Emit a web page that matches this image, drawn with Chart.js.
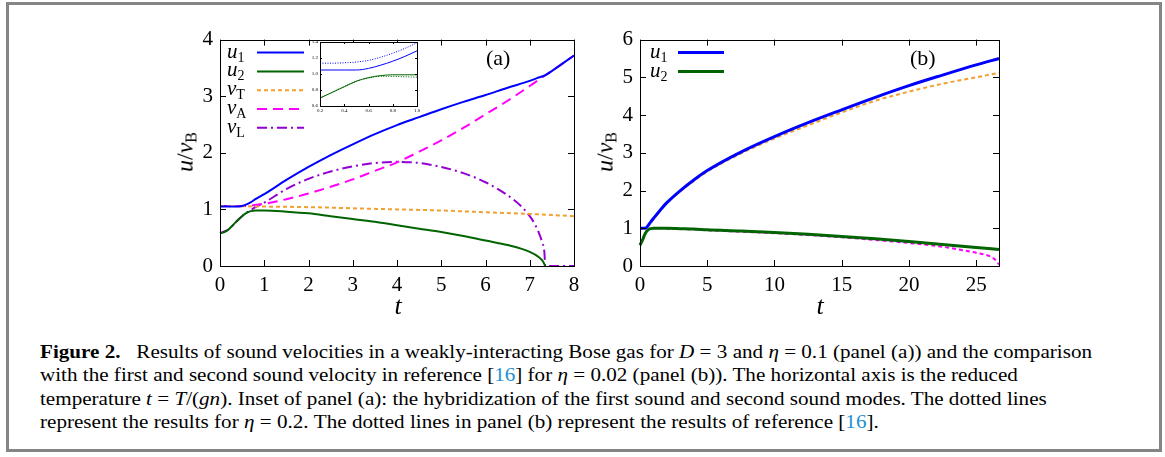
<!DOCTYPE html>
<html>
<head>
<meta charset="utf-8">
<script src="https://cdn.jsdelivr.net/npm/chart.js@4.4.1/dist/chart.umd.min.js"></script>
<style>
  body { margin: 0; background: #fff; width: 1165px; height: 457px; overflow: hidden; position: relative; font-family: 'Liberation Serif', serif; }
  .box { position: absolute; left: 6px; top: 2px; width: 1150px; height: 444px; border: 3px solid #858585; }
  .pane { position: absolute; }
  .lbl { position: absolute; font-size: 22px; color: #000; white-space: nowrap; }
  .ytitle { position: absolute; font-size: 24px; transform: translate(-50%, -50%) rotate(-90deg); white-space: nowrap; }
  .ytitle sub { font-size: 16px; font-style: normal; vertical-align: -4px; }
  .xtitle { position: absolute; font-size: 26px; font-style: italic; transform: translate(-50%, -50%); }
  .cap { position: absolute; left: 40px; top: 340px; font-size: 19px; line-height: 23.3px; white-space: nowrap; transform-origin: 0 0; }
  .cap div { display: table; }
  .cap .ref { color: #1e90d0; }
</style>
</head>
<body>
<div class="box"></div>

<div class="pane" style="left:140px; top:20px;"><canvas id="panelA" width="460" height="310"></canvas></div>
<div class="pane" style="left:298px; top:36px;"><canvas id="inset" width="130" height="80"></canvas></div>
<div class="pane" style="left:560px; top:20px;"><canvas id="panelB" width="465" height="310"></canvas></div>

<div class="ytitle" style="left:186px; top:152px;"><i>u</i>/<i>v</i><sub>B</sub></div>
<div class="ytitle" style="left:606px; top:152px;"><i>u</i>/<i>v</i><sub>B</sub></div>
<div class="xtitle" style="left:398px; top:306px;">t</div>
<div class="xtitle" style="left:820px; top:306px;">t</div>
<div class="lbl" style="left:486px; top:45px;">(a)</div>
<div class="lbl" style="left:910px; top:45px;">(b)</div>

<div class="cap" id="cap">
  <div id="capLine1"><b>Figure 2.</b>&nbsp;&nbsp; Results of sound velocities in a weakly-interacting Bose gas for <i>D</i> = 3 and <i>η</i> = 0.1 (panel (a)) and the comparison</div>
  <div>with the first and second sound velocity in reference [<span class="ref">16</span>] for <i>η</i> = 0.02 (panel (b)). The horizontal axis is the reduced</div>
  <div>temperature <i>t</i> = <i>T</i>/(<i>gn</i>). Inset of panel (a): the hybridization of the first sound and second sound modes. The dotted lines</div>
  <div>represent the results for <i>η</i> = 0.2. The dotted lines in panel (b) represent the results of reference [<span class="ref">16</span>].</div>
</div>

<script>
// ---- panel (a), eta = 0.1 ----
var tU1a = [0, 0.2, 0.4, 0.5, 0.6, 0.7, 0.8, 1, 1.5, 2, 2.5, 3, 3.5, 4, 4.5, 5, 5.5, 6, 6.5, 7, 7.2, 7.35, 7.6, 8];
var u1a  = [1.05, 1.05, 1.05, 1.06, 1.09, 1.13, 1.18, 1.27, 1.52, 1.75, 1.96, 2.15, 2.33, 2.49, 2.63, 2.77, 2.9, 3.02, 3.15, 3.27, 3.33, 3.37, 3.5, 3.72];
var tU2a = [0, 0.1, 0.2, 0.3, 0.4, 0.5, 0.6, 0.7, 0.8, 1, 1.5, 2, 2.5, 3, 3.5, 4, 4.5, 5, 5.5, 6, 6.5, 7, 7.2, 7.3, 7.35];
var u2a  = [0.58, 0.6, 0.65, 0.73, 0.81, 0.88, 0.94, 0.97, 0.98, 0.98, 0.96, 0.93, 0.88, 0.83, 0.78, 0.72, 0.66, 0.6, 0.53, 0.45, 0.37, 0.25, 0.16, 0.08, 0];
var tVTa = [0, 1, 2, 3, 4, 5, 6, 7, 8];
var vTa  = [1.06, 1.05, 1.04, 1.02, 1.0, 0.98, 0.95, 0.92, 0.88];
var tVAa = [0, 0.5, 1, 1.5, 2, 2.5, 3, 3.5, 4, 4.5, 5, 5.5, 6, 6.5, 7, 7.35, 7.6, 8];
var vAa  = [1.06, 1.06, 1.1, 1.18, 1.28, 1.4, 1.53, 1.68, 1.83, 2.02, 2.22, 2.44, 2.68, 2.92, 3.18, 3.37, 3.5, 3.72];
var tVLa = [0, 0.2, 0.4, 0.6, 0.7, 0.8, 1, 1.5, 2, 2.5, 3, 3.5, 4, 4.5, 5, 5.5, 6, 6.5, 6.8, 7, 7.1, 7.2, 7.28, 7.33, 7.35, 8];
var vLa  = [0.58, 0.65, 0.81, 0.94, 0.99, 1.04, 1.12, 1.36, 1.54, 1.67, 1.76, 1.82, 1.84, 1.82, 1.75, 1.64, 1.48, 1.25, 1.06, 0.88, 0.76, 0.6, 0.42, 0.25, 0, 0];

// ---- inset of (a): eta = 0.1 (solid) and eta = 0.2 (dotted) ----
var tIn    = [0.2, 0.3, 0.4, 0.5, 0.6, 0.7, 0.8, 0.9, 1.0];
var u1In   = [1.05, 1.05, 1.05, 1.05, 1.07, 1.11, 1.16, 1.22, 1.29];
var u1InD  = [1.135, 1.135, 1.14, 1.15, 1.17, 1.21, 1.26, 1.32, 1.39];
var u2In   = [0.70, 0.77, 0.84, 0.91, 0.955, 0.98, 0.99, 0.99, 0.99];
var u2InD  = [0.70, 0.77, 0.845, 0.91, 0.95, 0.97, 0.97, 0.965, 0.96];

// ---- panel (b), eta = 0.02, with reference [16] ----
var tB    = [0, 0.2, 0.4, 0.6, 0.8, 1, 1.5, 2, 3, 4, 5, 7.5, 10, 12.5, 15, 17.5, 20, 22.5, 25, 26.7];
var u1b   = [1.0, 1.0, 1.0, 1.07, 1.17, 1.26, 1.48, 1.68, 2.0, 2.28, 2.53, 3.02, 3.43, 3.8, 4.14, 4.47, 4.78, 5.06, 5.33, 5.5];
var ref1b = [1.0, 1.0, 1.0, 1.06, 1.15, 1.24, 1.46, 1.66, 1.98, 2.25, 2.5, 2.98, 3.38, 3.73, 4.07, 4.38, 4.62, 4.83, 5.0, 5.12];
var u2b   = [0.55, 0.7, 0.87, 0.96, 0.99, 1.0, 1.0, 1.0, 0.99, 0.98, 0.96, 0.93, 0.89, 0.84, 0.78, 0.72, 0.65, 0.57, 0.49, 0.44];
var tRef2b = [0, 0.2, 0.4, 0.6, 0.8, 1, 1.5, 2, 3, 4, 5, 7.5, 10, 12.5, 15, 17.5, 20, 22.5, 24, 25, 26, 26.4, 26.7];
var ref2b  = [0.57, 0.72, 0.88, 0.96, 0.99, 1.0, 1.0, 0.99, 0.98, 0.97, 0.95, 0.91, 0.87, 0.82, 0.76, 0.69, 0.61, 0.51, 0.42, 0.35, 0.26, 0.17, 0.04];

var BLUE = '#0000ff', GREEN = '#006400', ORANGE = '#f0a030', MAGENTA = '#ff00ff', PURPLE = '#9400d3';
var FONT = 'Liberation Serif';

function pts(xs, ys) {
    return xs.map(function(x, i) { return {x: x, y: ys[i]}; });
}

function line(xs, ys, color, width, dash) {
    return {
        data: pts(xs, ys),
        showLine: true,
        borderColor: color,
        backgroundColor: color,
        borderWidth: width,
        borderDash: dash || [],
        pointRadius: 0,
        fill: false,
        cubicInterpolationMode: 'monotone',
        clip: 4
    };
}

// gnuplot style frame with inward ticks on all four sides
var frameTicks = {
    id: 'frameTicks',
    beforeDatasetsDraw: function(chart, args, opts) {
        if (!opts.fill) return;
        var a = chart.chartArea, ctx = chart.ctx;
        ctx.save();
        ctx.fillStyle = '#fff';
        ctx.fillRect(a.left, a.top, a.width, a.height);
        ctx.restore();
    },
    afterDatasetsDraw: function(chart, args, opts) {
        var ctx = chart.ctx, a = chart.chartArea;
        var x = chart.scales.x, y = chart.scales.y;
        var L = opts.len || 6;
        ctx.save();
        ctx.strokeStyle = '#000';
        ctx.lineWidth = opts.width || 1;
        ctx.beginPath();
        x.ticks.forEach(function(t) {
            var p = Math.round(x.getPixelForValue(t.value)) + 0.5;
            ctx.moveTo(p, a.bottom); ctx.lineTo(p, a.bottom - L);
            ctx.moveTo(p, a.top); ctx.lineTo(p, a.top + L);
        });
        y.ticks.forEach(function(t) {
            var p = Math.round(y.getPixelForValue(t.value)) + 0.5;
            ctx.moveTo(a.left, p); ctx.lineTo(a.left + L, p);
            ctx.moveTo(a.right, p); ctx.lineTo(a.right - L, p);
        });
        ctx.stroke();
        ctx.strokeRect(Math.round(a.left) + 0.5, Math.round(a.top) + 0.5, Math.round(a.width), Math.round(a.height));
        ctx.restore();
    }
};

// key drawn inside the plot, text with subscript then a line sample
var keyBox = {
    id: 'keyBox',
    afterDatasetsDraw: function(chart, args, opts) {
        if (!opts.items) return;
        var ctx = chart.ctx, a = chart.chartArea;
        ctx.save();
        opts.items.forEach(function(it, i) {
            var ds = chart.data.datasets[it.ds];
            var yy = a.top + opts.top + i * opts.step;
            ctx.fillStyle = '#000';
            ctx.textBaseline = 'alphabetic';
            ctx.font = 'italic 21px "' + FONT + '"';
            var tx = a.left + opts.textX;
            ctx.fillText(it.main, tx, yy + 5);
            var w = ctx.measureText(it.main).width;
            ctx.font = '14px "' + FONT + '"';
            ctx.fillText(it.sub, tx + w, yy + 9);
            ctx.strokeStyle = ds.borderColor;
            ctx.lineWidth = ds.borderWidth;
            ctx.setLineDash(ds.borderDash || []);
            ctx.beginPath();
            ctx.moveTo(a.left + opts.lineX0, yy);
            ctx.lineTo(a.left + opts.lineX1, yy);
            ctx.stroke();
            ctx.setLineDash([]);
        });
        ctx.restore();
    }
};

Chart.register(frameTicks, keyBox);

function stepTicks(min, max, step) {
    var out = [];
    for (var k = 0; min + k * step <= max + 1e-9; k++) {
        out.push({value: Math.round((min + k * step) * 1e6) / 1e6});
    }
    return out;
}

function axes(xmin, xmax, xstep, ymin, ymax, ystep, size, pad, yw, xh) {
    var tick = {color: '#000', font: {family: FONT, size: size}, padding: pad, maxRotation: 0, autoSkip: false};
    return {
        x: {
            type: 'linear', min: xmin, max: xmax,
            ticks: tick,
            grid: {display: false, drawTicks: false},
            border: {display: false},
            afterBuildTicks: function(s) { s.ticks = stepTicks(xmin, xmax, xstep); },
            afterFit: function(s) { s.height = xh; }
        },
        y: {
            type: 'linear', min: ymin, max: ymax,
            ticks: tick,
            grid: {display: false, drawTicks: false},
            border: {display: false},
            afterBuildTicks: function(s) { s.ticks = stepTicks(ymin, ymax, ystep); },
            afterFit: function(s) { s.width = yw; }
        }
    };
}

var common = {
    responsive: false,
    animation: false,
    devicePixelRatio: 1,
    events: []
};

new Chart(document.getElementById('panelA'), {
    type: 'scatter',
    data: {
        datasets: [
            line(tU1a, u1a, BLUE, 2),
            line(tU2a, u2a, GREEN, 2),
            line(tVTa, vTa, ORANGE, 2, [4, 3]),
            line(tVAa, vAa, MAGENTA, 2, [10, 6]),
            line(tVLa, vLa, PURPLE, 2, [10, 4, 2, 4])
        ]
    },
    options: Object.assign({}, common, {
        layout: {padding: {left: 0, top: 17, right: 26, bottom: 24}},
        scales: axes(0, 8, 1, 0, 4, 1, 21, 7, 80, 40),
        plugins: {
            legend: {display: false},
            tooltip: {enabled: false},
            frameTicks: {len: 6},
            keyBox: {
                top: 13, step: 18.8, textX: 7, lineX0: 37, lineX1: 84,
                items: [
                    {ds: 0, main: 'u', sub: '1'},
                    {ds: 1, main: 'u', sub: '2'},
                    {ds: 2, main: 'v', sub: 'T'},
                    {ds: 3, main: 'v', sub: 'A'},
                    {ds: 4, main: 'v', sub: 'L'}
                ]
            }
        }
    })
});

new Chart(document.getElementById('inset'), {
    type: 'scatter',
    data: {
        datasets: [
            line(tIn, u1InD, BLUE, 1, [1, 1.5]),
            line(tIn, u1In, BLUE, 1),
            line(tIn, u2InD, GREEN, 1, [1, 1.5]),
            line(tIn, u2In, GREEN, 1)
        ]
    },
    options: Object.assign({}, common, {
        layout: {padding: {left: 0, top: 6, right: 11, bottom: 2}},
        scales: axes(0.2, 1, 0.2, 0.6, 1.4, 0.2, 5, 2, 22, 8),
        plugins: {
            legend: {display: false},
            tooltip: {enabled: false},
            frameTicks: {len: 2, fill: true}
        }
    })
});

new Chart(document.getElementById('panelB'), {
    type: 'scatter',
    data: {
        datasets: [
            line(tB, u1b, BLUE, 3),
            line(tB, u2b, GREEN, 3),
            line(tB, ref1b, ORANGE, 2, [4, 3]),
            line(tRef2b, ref2b, MAGENTA, 2, [4, 3])
        ]
    },
    options: Object.assign({}, common, {
        layout: {padding: {left: 0, top: 17, right: 26, bottom: 24}},
        scales: axes(0, 26.7, 5, 0, 6, 1, 21, 7, 80, 40),
        plugins: {
            legend: {display: false},
            tooltip: {enabled: false},
            frameTicks: {len: 6},
            keyBox: {
                top: 13, step: 19, textX: 10, lineX0: 38, lineX1: 84,
                items: [
                    {ds: 0, main: 'u', sub: '1'},
                    {ds: 1, main: 'u', sub: '2'}
                ]
            }
        }
    })
});

// stretch the caption so its first line spans the same width as in the figure
var cap = document.getElementById('cap');
var w1 = document.getElementById('capLine1').getBoundingClientRect().width;
cap.style.transform = 'scaleX(' + (1052 / w1) + ')';
</script>
</body>
</html>
